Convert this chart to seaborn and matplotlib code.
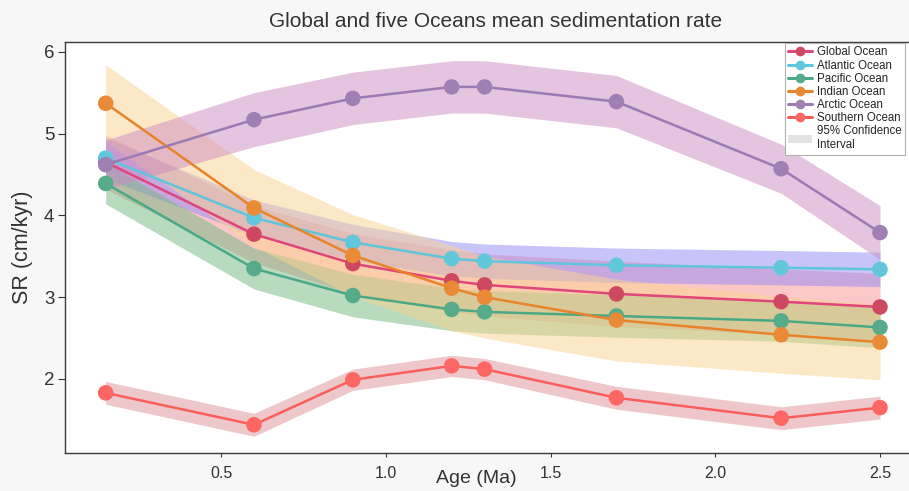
import numpy as np
import pandas as pd
import matplotlib
matplotlib.use("Agg")
import matplotlib.pyplot as plt
import seaborn as sns
from matplotlib.lines import Line2D
from matplotlib.patches import Patch

# ---- data ----
ages = [0.15, 0.6, 0.9, 1.2, 1.3, 1.7, 2.2, 2.5]
oceans = ["Global Ocean", "Atlantic Ocean", "Pacific Ocean", "Indian Ocean",
          "Arctic Ocean", "Southern Ocean"]
sr_global = [4.65, 3.77, 3.41, 3.20, 3.15, 3.04, 2.945, 2.88]
sr_atlantic = [4.70, 3.97, 3.67, 3.47, 3.44, 3.39, 3.36, 3.34]
sr_pacific = [4.39, 3.35, 3.02, 2.85, 2.82, 2.77, 2.71, 2.63]
sr_indian = [5.37, 4.09, 3.51, 3.11, 3.00, 2.72, 2.54, 2.45]
sr_arctic = [4.62, 5.17, 5.43, 5.57, 5.57, 5.39, 4.57, 3.79]
sr_southern = [1.83, 1.44, 1.99, 2.16, 2.12, 1.77, 1.52, 1.65]

# 95% CI half-widths
ci_global = [0.33, 0.35, 0.37, 0.38, 0.38, 0.40, 0.40, 0.41]
ci_atlantic = [0.25, 0.22, 0.22, 0.21, 0.21, 0.21, 0.21, 0.21]
ci_pacific = [0.25, 0.25, 0.26, 0.26, 0.26, 0.26, 0.25, 0.25]
ci_indian = [0.47, 0.47, 0.50, 0.52, 0.50, 0.50, 0.47, 0.46]
ci_arctic = [0.30, 0.33, 0.32, 0.32, 0.32, 0.32, 0.30, 0.33]
ci_southern = [0.14, 0.14, 0.13, 0.13, 0.13, 0.14, 0.14, 0.14]

series = [sr_global, sr_atlantic, sr_pacific, sr_indian, sr_arctic, sr_southern]
cis = [ci_global, ci_atlantic, ci_pacific, ci_indian, ci_arctic, ci_southern]

line_colors = ["#e0457b", "#5ec5dc", "#4aa886", "#e8832a", "#9a7bb3", "#fb5e5b"]
marker_colors = ["#cf4862", "#63c7dc", "#55ab8a", "#e98a36", "#a080b3", "#fc6663"]
band_colors = ["#f99191", "#938bf7", "#73b981", "#fbd38f", "#cd8bc1", "#dd9197"]

rows = []
for name, vals in zip(oceans, series):
    for a, v in zip(ages, vals):
        rows.append({"Age": a, "SR": v, "Ocean": name})
df = pd.DataFrame(rows)

sns.set_style("ticks")
plt.rcParams["font.family"] = ["Liberation Sans", "DejaVu Sans"]

fig = plt.figure(figsize=(9.09, 4.91), dpi=100, facecolor="#f7f7f7")
ax = fig.add_axes([65.4 / 909, 38 / 491, (925 - 65.4) / 909, (453 - 42) / 491])
ax.set_facecolor("white")

# confidence bands
for vals, ci, bc in zip(series, cis, band_colors):
    v = np.array(vals)
    c = np.array(ci)
    ax.fill_between(ages, v - c, v + c, color=bc, alpha=0.5, linewidth=0, zorder=1)

sns.lineplot(data=df, x="Age", y="SR", hue="Ocean", hue_order=oceans,
             palette=dict(zip(oceans, line_colors)), linewidth=1.8,
             legend=False, ax=ax, sort=False, zorder=3)
sns.scatterplot(data=df, x="Age", y="SR", hue="Ocean", hue_order=oceans,
                palette=dict(zip(oceans, marker_colors)), s=125,
                edgecolor="none", legend=False, ax=ax, zorder=4)

ax.set_xlim(0.0277, 2.6366)
ax.set_ylim(1.095, 6.119)
ax.set_xticks([0.5, 1.0, 1.5, 2.0, 2.5])
ax.set_xticklabels(["0.5", "1.0", "1.5", "2.0", "2.5"])
ax.set_yticks([2, 3, 4, 5, 6])
ax.set_yticklabels(["2", "3", "4", "5", "6"])
ax.tick_params(axis="x", length=3, width=0.8, labelsize=11.5, colors="#333333", pad=6)
ax.tick_params(axis="y", length=5, width=0.8, labelsize=13.5, colors="#333333", pad=3)

for s in ["left", "bottom", "top"]:
    ax.spines[s].set_color("#3a3a3a")
    ax.spines[s].set_linewidth(1.0)
ax.spines["right"].set_visible(False)

ax.set_xlabel("Age (Ma)", fontsize=14, color="#333333")
ax.xaxis.set_label_coords((476 - 65.4) / 859.6, -0.042)
ax.set_ylabel("SR (cm/kyr)", fontsize=15.5, color="#333333", labelpad=8)
ax.set_title("Global and five Oceans mean sedimentation rate", fontsize=15,
             color="#333333", pad=11)

handles = [Line2D([0], [0], color=lc, marker="o", markersize=6,
                  markerfacecolor=mc, markeredgecolor=mc, linewidth=2.2)
           for lc, mc in zip(line_colors, marker_colors)]
handles.append(Patch(facecolor="#e3e3e3", edgecolor="none"))
labels = oceans + ["95% Confidence\nInterval"]
leg = ax.legend(handles, labels, loc="upper left",
                bbox_to_anchor=(785 / 909, 1 - 43 / 491),
                bbox_transform=fig.transFigure, fontsize=8.3,
                labelspacing=0.1, handlelength=2.0, handletextpad=0.5,
                borderpad=0.3, borderaxespad=0, fancybox=False, framealpha=1)
leg.get_frame().set_edgecolor("#b0b0b0")
leg.get_frame().set_linewidth(0.8)
leg.set_zorder(10)

fig.savefig("out.png", dpi=100, facecolor=fig.get_facecolor())
